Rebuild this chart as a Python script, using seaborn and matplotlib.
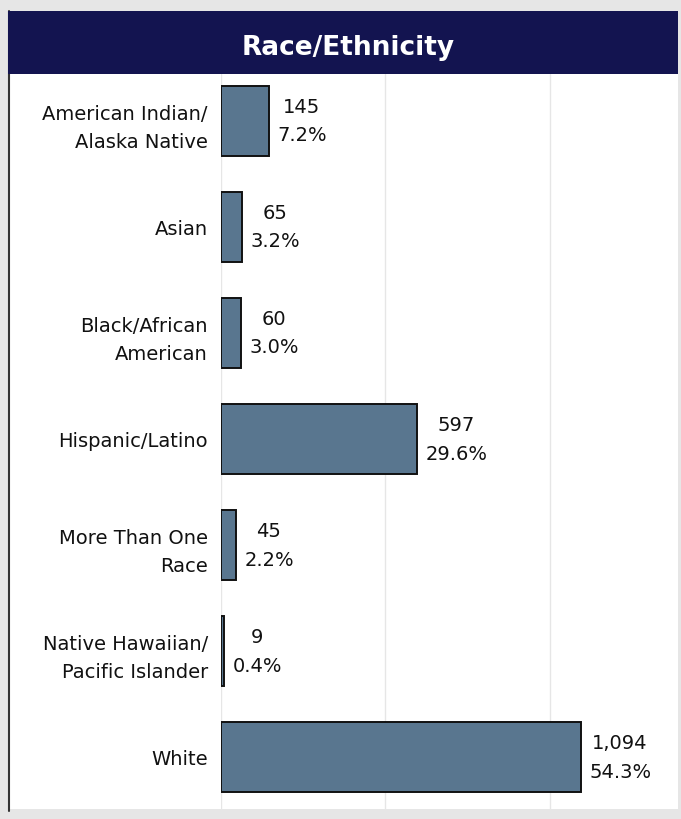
import matplotlib
matplotlib.use("Agg")
import matplotlib.pyplot as plt
import seaborn as sns
import pandas as pd
from matplotlib.patches import Rectangle
from matplotlib.lines import Line2D

categories = ["American Indian/\nAlaska Native", "Asian", "Black/African\nAmerican",
              "Hispanic/Latino", "More Than One\nRace", "Native Hawaiian/\nPacific Islander", "White"]
counts = [145, 65, 60, 597, 45, 9, 1094]
percents = ["7.2%", "3.2%", "3.0%", "29.6%", "2.2%", "0.4%", "54.3%"]
title = "Race/Ethnicity"

df = pd.DataFrame({"cat": categories, "count": counts})

sns.set_theme(style="white")
plt.rcParams['font.family'] = ['DejaVu Sans']

W, H = 681, 820
fig = plt.figure(figsize=(W / 100, H / 100), dpi=100)
fig.patch.set_facecolor("#e6e6e6")

def fx(px):
    return px / W

def fy(py):
    return 1 - py / H

# white panel
fig.patches.append(Rectangle((fx(8), fy(810)), fx(678) - fx(8), fy(12) - fy(810),
                             transform=fig.transFigure, facecolor="white", edgecolor="none", zorder=-2))
# title band
fig.patches.append(Rectangle((fx(8), fy(75)), fx(678) - fx(8), fy(12) - fy(75),
                             transform=fig.transFigure, facecolor="#131450", edgecolor="none", zorder=-1))
# left border
fig.lines.append(Line2D([fx(9), fx(9)], [fy(12), fy(812)], transform=fig.transFigure,
                        color="#333333", lw=1.5, zorder=-1))
fig.text(fx(348), fy(48), title, color="white", fontsize=19, fontweight="bold",
         ha="center", va="center")

ax = fig.add_axes([fx(221), fy(811), fx(678) - fx(221), fy(75) - fy(811)])
ax.set_zorder(5)
ax.set_facecolor("none")
sns.barplot(data=df, y="cat", x="count", orient="h", color="#59768f", saturation=1,
            edgecolor="#111111", linewidth=1.4, width=0.66, ax=ax, zorder=3)

ax.set_xlim(0, 1390)
ax.set_ylim(6.5, -0.44)
ax.set_xticks([0, 500, 1000])
ax.xaxis.grid(True, color="#e6e6e6", lw=1)
ax.set_axisbelow(True)
ax.tick_params(axis="x", labelbottom=False, length=0)
ax.tick_params(axis="y", length=0, pad=9.5, labelsize=14)
for lbl in ax.get_yticklabels():
    lbl.set_linespacing(1.63)
    lbl.set_color("#111111")
ax.set_xlabel("")
ax.set_ylabel("")
for s in ax.spines.values():
    s.set_visible(False)

for i, (c, p) in enumerate(zip(counts, percents)):
    ax.annotate(f"{c:,}\n{p}", xy=(c, i), xytext=(6, 0), textcoords="offset points",
                ha="left", va="center", multialignment="center",
                fontsize=14, linespacing=1.63, color="#111111")

fig.savefig("out.png", dpi=100, facecolor=fig.get_facecolor())
